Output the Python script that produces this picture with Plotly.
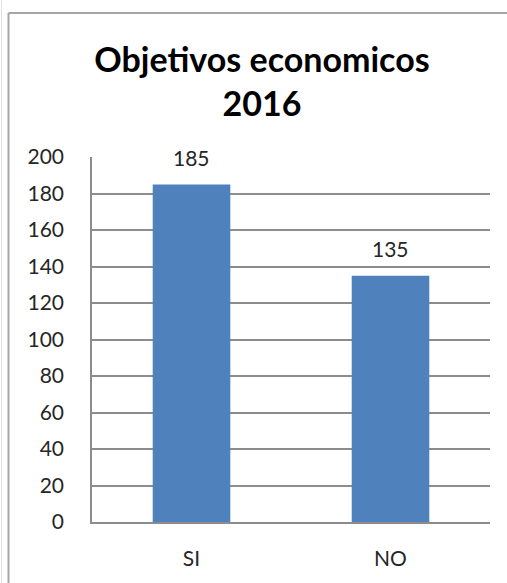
import plotly.graph_objects as go

categories = ["SI", "NO"]
values = [185, 135]
title_lines = ["Objetivos economicos", "2016"]
y_ticks = list(range(0, 201, 20))

FONT = "Lato"
TXT = "#262626"

fig = go.Figure()
fig.add_trace(go.Bar(
    x=categories, y=values,
    marker=dict(color="#4F81BD", line=dict(width=0)),
    hoverinfo="skip",
))

for c, v in zip(categories, values):
    fig.add_annotation(x=c, y=v, text=str(v), showarrow=False,
                       yanchor="middle", yshift=27,
                       font=dict(family=FONT, size=21, color=TXT))

W, H = 507, 583
L, R, T, B = 92, 17, 157, 61
pw, ph = W - L - R, H - T - B

def px(x):
    return (x - L) / pw

def py(y):
    return (H - B - y) / ph

# outer chart border (cropped at right and bottom)
fig.add_shape(type="line", xref="paper", yref="paper",
              x0=px(8.5), x1=px(8.5), y0=py(13), y1=py(600),
              line=dict(color="#a6a6a6", width=2))
fig.add_shape(type="line", xref="paper", yref="paper",
              x0=px(8.5), x1=px(507), y0=py(13), y1=py(13),
              line=dict(color="#a6a6a6", width=2))
fig.add_shape(type="line", xref="paper", yref="paper",
              x0=px(1.5), x1=px(1.5), y0=py(0), y1=py(600),
              line=dict(color="#e0e0e0", width=1))

fig.update_layout(
    width=W, height=H,
    margin=dict(l=L, r=R, t=T, b=B),
    paper_bgcolor="white", plot_bgcolor="white",
    showlegend=False,
    bargap=0.61,
    title=dict(text="<b>" + "<br>".join(title_lines) + "</b>",
               x=px(262), xanchor="center", xref="paper",
               y=1 - 72 / H, yanchor="middle",
               font=dict(family=FONT, size=34, color="#000000")),
    xaxis=dict(showgrid=False, showline=True, linecolor="#8c8c8c", linewidth=1.5,
               ticks="", tickfont=dict(family=FONT, size=21, color=TXT),
               ticklabelstandoff=17),
    yaxis=dict(range=[0, 200], tickvals=y_ticks, showgrid=True,
               gridcolor="#8c8c8c", gridwidth=1.5, zeroline=False,
               showline=True, linecolor="#8c8c8c", linewidth=1.5,
               ticks="", tickfont=dict(family=FONT, size=21, color=TXT),
               ticklabelstandoff=22),
)

fig.write_html("out.html")
